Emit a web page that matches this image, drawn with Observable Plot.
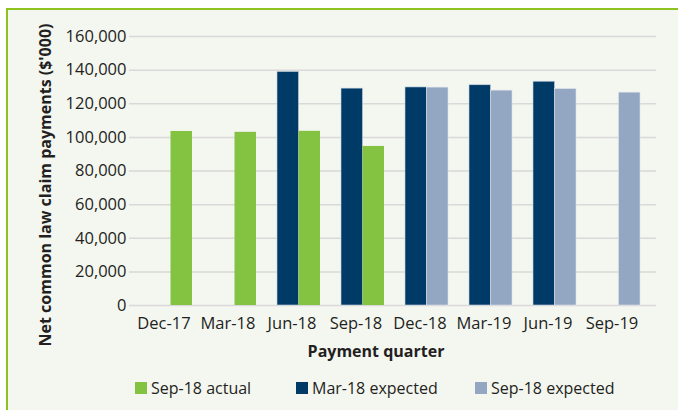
<!DOCTYPE html>
<html>
<head>
<meta charset="utf-8">
<script src="https://cdn.jsdelivr.net/npm/d3@7"></script>
<script src="https://cdn.jsdelivr.net/npm/@observablehq/plot@0.6"></script>
<style>
  html, body { margin: 0; padding: 0; background: #fff; }
  #wrap { position: relative; width: 678px; height: 410px; overflow: hidden; font-family: "Open Sans", sans-serif; }
  #panel { position: absolute; left: 6px; top: 8px; right: 0; bottom: 0; background: #f4f6f0;
           border-top: 2px solid #8dc21f; border-left: 2px solid #8dc21f; }
  #chart { position: absolute; left: 0; top: 0; }
  #legend { position: absolute; left: 0; top: 376px; width: 678px; height: 24px; font-size: 16px; color: #231f20; }
  .item { position: absolute; top: 0; display: flex; align-items: center; height: 24px; white-space: nowrap; }
  .sw { width: 12px; height: 12px; margin-right: 4px; }
</style>
</head>
<body>
<div id="wrap">
  <div id="panel"></div>
  <div id="chart"></div>
  <div id="legend"></div>
</div>
<script>
const quarters = ["Dec-17", "Mar-18", "Jun-18", "Sep-18", "Dec-18", "Mar-19", "Jun-19", "Sep-19"];
const sep18Actual = [103500, 103000, 103600, 94600, null, null, null, null];
const mar18Expected = [null, null, 138900, 129000, 129700, 131000, 133100, null];
const sep18Expected = [null, null, null, null, 129600, 127800, 128700, 126600];
const yTicks = [0, 20000, 40000, 60000, 80000, 100000, 120000, 140000, 160000];
const seriesNames = ["Sep-18 actual", "Mar-18 expected", "Sep-18 expected"];
const seriesColors = ["#84c341", "#003b67", "#93a6c2"];

const rows = (vals, name) => quarters.map((q, i) => ({quarter: q, value: vals[i], series: name})).filter(d => d.value != null);
const dActual = rows(sep18Actual, seriesNames[0]);
const dMar = rows(mar18Expected, seriesNames[1]);
const dSep = rows(sep18Expected, seriesNames[2]);

const fmt = d3.format(",");
const font = "Open Sans, sans-serif";

const plot = Plot.plot({
  width: 678,
  height: 368,
  marginLeft: 129,
  marginRight: 22,
  marginTop: 36,
  marginBottom: 63,
  style: {background: "transparent", fontFamily: font, fontSize: "16px", color: "#231f20"},
  x: {domain: quarters, range: [136.25, 652.25], paddingInner: 1/3, paddingOuter: 1/6, label: null},
  y: {domain: [0, 160000], label: null},
  color: {domain: seriesNames, range: seriesColors},
  marks: [
    Plot.gridY(yTicks, {stroke: "#d9d9d9", strokeOpacity: 1, strokeWidth: 1.5}),
    Plot.barY(dMar, {x: "quarter", y: "value", fill: "series", insetRight: 21.5, stroke: "#c8d3e0", strokeWidth: 0.6}),
    Plot.barY(dActual, {x: "quarter", y: "value", fill: "series", insetLeft: 21.5}),
    Plot.barY(dSep, {x: "quarter", y: "value", fill: "series", insetLeft: 21.5, stroke: "#dde3ec", strokeWidth: 0.6}),
    Plot.ruleY([0], {stroke: "#231f20", strokeWidth: 2.5, x1: 125, x2: 656}),
    Plot.axisY(yTicks, {tickSize: 0, tickPadding: 3, tickFormat: fmt, fontSize: 16.5, fill: "#231f20", label: null}),
    Plot.axisX({tickSize: 0, tickPadding: 12, dx: -7, fontSize: 16.5, fill: "#231f20", label: null}),
    Plot.text(["Net common law claim payments ($'000)"], {frameAnchor: "left", textAnchor: "middle", rotate: -90, dx: -84, dy: 14, fontSize: 16, fontWeight: "bold", fill: "#231f20"}),
    Plot.text(["Payment quarter"], {frameAnchor: "bottom", dx: -17, dy: 51, fontSize: 16, fontWeight: "bold", fill: "#231f20"})
  ]
});
document.getElementById("chart").appendChild(plot);

const legend = document.getElementById("legend");
const lx = [135, 296, 475];
seriesNames.forEach((n, i) => {
  const it = document.createElement("div");
  it.className = "item";
  it.style.left = lx[i] + "px";
  it.innerHTML = `<span class="sw" style="background:${seriesColors[i]}"></span><span>${n}</span>`;
  legend.appendChild(it);
});
</script>
</body>
</html>
